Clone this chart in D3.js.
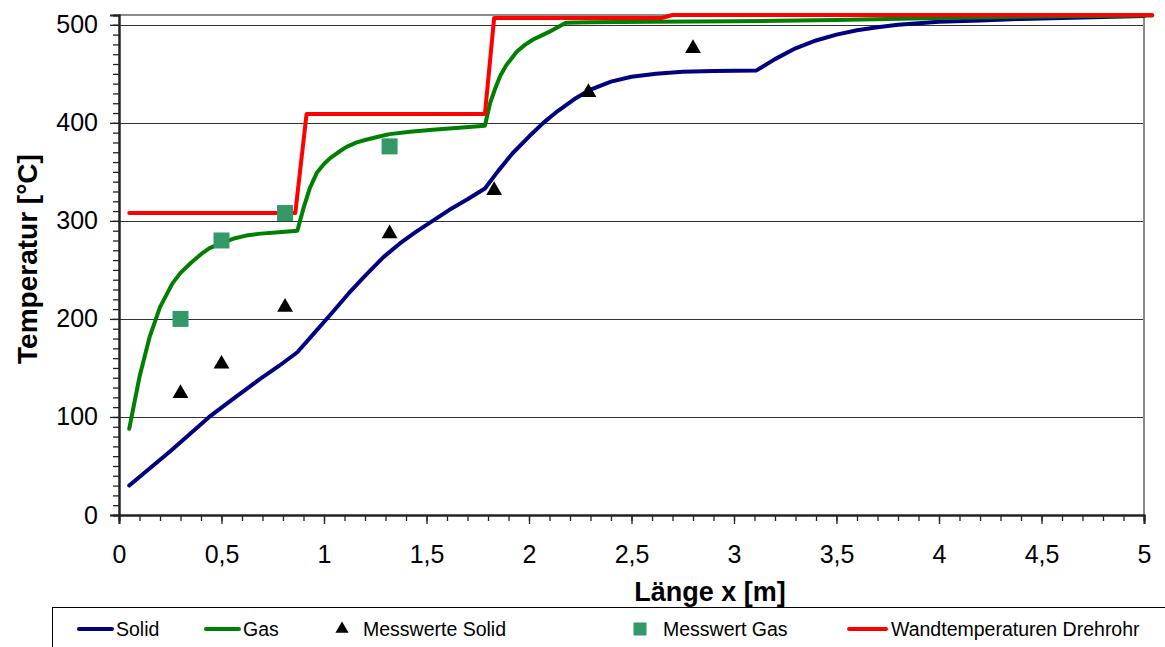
<!DOCTYPE html>
<html>
<head>
<meta charset="utf-8">
<script src="https://cdn.jsdelivr.net/npm/d3@7"></script>
<style>
  body { margin: 0; background: #fff; }
  svg, svg text { font-family: "Liberation Sans", Arial, sans-serif; }
</style>
</head>
<body>
<div id="chart"></div>
<script>
// Solid (Feststoff) temperature
var solidX = [0.05, 0.25, 0.44, 0.56, 0.68, 0.78, 0.87, 0.95, 1.03, 1.12, 1.2, 1.29, 1.37, 1.45, 1.53, 1.61, 1.7, 1.785, 1.85, 1.92, 2.0, 2.07, 2.14, 2.22, 2.3, 2.4, 2.5, 2.62, 2.75, 2.9, 3.11, 3.2, 3.3, 3.4, 3.5, 3.6, 3.7, 3.8, 3.9, 4.0, 4.2, 4.4, 4.6, 4.8, 5.0];
var solidY = [30, 65, 100, 119, 137.5, 152, 166, 185, 204, 226, 244, 263, 277, 289, 300, 311, 322, 333, 351, 369, 386, 400, 412, 424, 434, 442, 447, 450, 452, 453, 453.5, 465, 476, 484, 490, 494.5, 497.5, 500, 501.5, 503, 504.5, 506, 507, 508, 509];

// Gas temperature
var gasX = [0.05, 0.1, 0.15, 0.2, 0.26, 0.3, 0.35, 0.4, 0.44, 0.5, 0.56, 0.62, 0.69, 0.78, 0.87, 0.9, 0.93, 0.965, 1.0, 1.03, 1.07, 1.11, 1.16, 1.21, 1.27, 1.32, 1.42, 1.53, 1.66, 1.785, 1.81, 1.835, 1.86, 1.89, 1.94, 1.98, 2.02, 2.06, 2.1, 2.14, 2.18, 2.3, 2.6, 3.0, 3.5, 4.0, 4.5, 5.04];
var gasY = [88, 141, 182, 212, 236, 247, 257, 266, 272, 277.5, 282, 285, 287, 288.5, 290, 313, 333, 349, 358, 364, 370, 375.5, 380, 383, 386, 388.5, 391, 393, 395, 397, 420, 435, 448, 459, 472.5, 479.5, 485, 489, 493, 497.5, 502, 502.5, 503, 503.5, 505, 507, 508.5, 509.5];

// Wandtemperaturen Drehrohr
var wallX = [0.05, 0.86, 0.915, 1.785, 1.83, 2.65, 2.7, 5.04];
var wallY = [308, 308, 409, 409, 507, 507, 510, 510];

// Messwerte
var messSolidX = [0.3, 0.5, 0.81, 1.32, 1.83, 2.29, 2.8];
var messSolidY = [124, 154, 212, 287, 331, 431, 476];
var messGasX = [0.3, 0.5, 0.81, 1.32];
var messGasY = [200, 280, 308, 376];

var yTicks = [0, 100, 200, 300, 400, 500];
var xTicks = [0, 0.5, 1, 1.5, 2, 2.5, 3, 3.5, 4, 4.5, 5];
var legendNames = ["Solid", "Gas", "Messwerte Solid", "Messwert Gas", "Wandtemperaturen Drehrohr"];

var W = 1165, H = 647;
var plot = { left: 119, right: 1144, top: 15, bottom: 515 };
var font = '"Liberation Sans", Arial, sans-serif';

var svg = d3.select("#chart").append("svg")
  .attr("width", W)
  .attr("height", H);

var x = d3.scaleLinear().domain([0, 5]).range([plot.left, plot.right]);
var y = d3.scaleLinear().domain([0, 510]).range([plot.bottom, plot.top]);

// grid lines
svg.append("g")
  .selectAll("line")
  .data(yTicks.slice(1))
  .enter().append("line")
  .attr("x1", plot.left).attr("x2", plot.right)
  .attr("y1", function (d) { return Math.round(y(d)) + 0.5; })
  .attr("y2", function (d) { return Math.round(y(d)) + 0.5; })
  .attr("stroke", "#333")
  .attr("stroke-width", 1);

// plot frame (top and right)
svg.append("path")
  .attr("d", "M" + plot.left + "," + plot.top + "H" + plot.right + "V" + plot.bottom)
  .attr("fill", "none")
  .attr("stroke", "#8c8c8c")
  .attr("stroke-width", 2);

// axes
var yMinor = d3.axisLeft(y).ticks(51).tickSize(6).tickFormat("");
var yAxis = d3.axisLeft(y).tickValues(yTicks).tickSize(9).tickPadding(12)
  .tickFormat(d3.format("d"));
var xMinor = d3.axisBottom(x).ticks(50).tickSize(6).tickFormat("");
var xAxis = d3.axisBottom(x).tickValues(xTicks).tickSize(9).tickPadding(21)
  .tickFormat(function (d) { return String(d).replace(".", ","); });

function styleAxis(g) {
  g.attr("font-family", font);
  g.select(".domain").attr("stroke", "#222").attr("stroke-width", 2);
  g.selectAll(".tick line").attr("stroke", "#222").attr("stroke-width", 1.3);
  g.selectAll(".tick text").attr("fill", "#000").style("font-size", "25px");
}

svg.append("g").attr("transform", "translate(" + plot.left + ",0)").call(yMinor).call(styleAxis);
svg.append("g").attr("transform", "translate(" + plot.left + ",0)").call(yAxis).call(styleAxis);
svg.append("g").attr("transform", "translate(0," + plot.bottom + ")").call(xMinor).call(styleAxis);
svg.append("g").attr("transform", "translate(0," + plot.bottom + ")").call(xAxis).call(styleAxis);

// axis titles
svg.append("text")
  .attr("x", 710).attr("y", 601)
  .attr("text-anchor", "middle")
  .style("font-size", "27px").style("font-weight", "bold")
  .text("Länge x [m]");

svg.append("text")
  .attr("transform", "translate(37,259) rotate(-90)")
  .attr("text-anchor", "middle")
  .style("font-size", "28px").style("font-weight", "bold")
  .text("Temperatur [°C]");

// lines
var line = d3.line()
  .x(function (d) { return x(d[0]); })
  .y(function (d) { return y(d[1]); });

function drawLine(xs, ys, color) {
  svg.append("path")
    .datum(d3.zip(xs, ys))
    .attr("d", line)
    .attr("fill", "none")
    .attr("stroke", color)
    .attr("stroke-width", 4)
    .attr("stroke-linejoin", "round")
    .attr("stroke-linecap", "round");
}

drawLine(solidX, solidY, "#000080");
drawLine(gasX, gasY, "#008000");
drawLine(wallX, wallY, "#ff0000");

// markers
var tri = d3.symbol().type(d3.symbolTriangle).size(108);
var sq = d3.symbol().type(d3.symbolSquare).size(256);

svg.append("g")
  .selectAll("path")
  .data(d3.zip(messSolidX, messSolidY))
  .enter().append("path")
  .attr("d", tri)
  .attr("transform", function (d) { return "translate(" + x(d[0]) + "," + y(d[1]) + ")"; })
  .attr("fill", "#000");

svg.append("g")
  .selectAll("path")
  .data(d3.zip(messGasX, messGasY))
  .enter().append("path")
  .attr("d", sq)
  .attr("transform", function (d) { return "translate(" + x(d[0]) + "," + y(d[1]) + ")"; })
  .attr("fill", "#339966");

// legend
var lg = svg.append("g");
lg.append("rect")
  .attr("x", 52.5).attr("y", 607.5)
  .attr("width", 1130).attr("height", 60)
  .attr("fill", "#fff").attr("stroke", "#000").attr("stroke-width", 1);

var legendItems = [
  { type: "line", color: "#000080", x1: 79, x2: 112, tx: 116 },
  { type: "line", color: "#008000", x1: 206, x2: 239, tx: 243 },
  { type: "tri", color: "#000", cx: 342, tx: 363 },
  { type: "sq", color: "#339966", cx: 640, tx: 663 },
  { type: "line", color: "#ff0000", x1: 849, x2: 886, tx: 891 }
];
var ly = 629;

legendItems.forEach(function (it, i) {
  if (it.type === "line") {
    lg.append("line")
      .attr("x1", it.x1).attr("x2", it.x2)
      .attr("y1", ly).attr("y2", ly)
      .attr("stroke", it.color).attr("stroke-width", 4)
      .attr("stroke-linecap", "round");
  } else {
    lg.append("path")
      .attr("d", it.type === "tri" ? d3.symbol().type(d3.symbolTriangle).size(75)() : d3.symbol().type(d3.symbolSquare).size(170)())
      .attr("transform", "translate(" + it.cx + "," + ly + ")")
      .attr("fill", it.color);
  }
  lg.append("text")
    .attr("x", it.tx).attr("y", ly + 7)
    .style("font-size", "19.5px")
    .text(legendNames[i]);
});
</script>
</body>
</html>
